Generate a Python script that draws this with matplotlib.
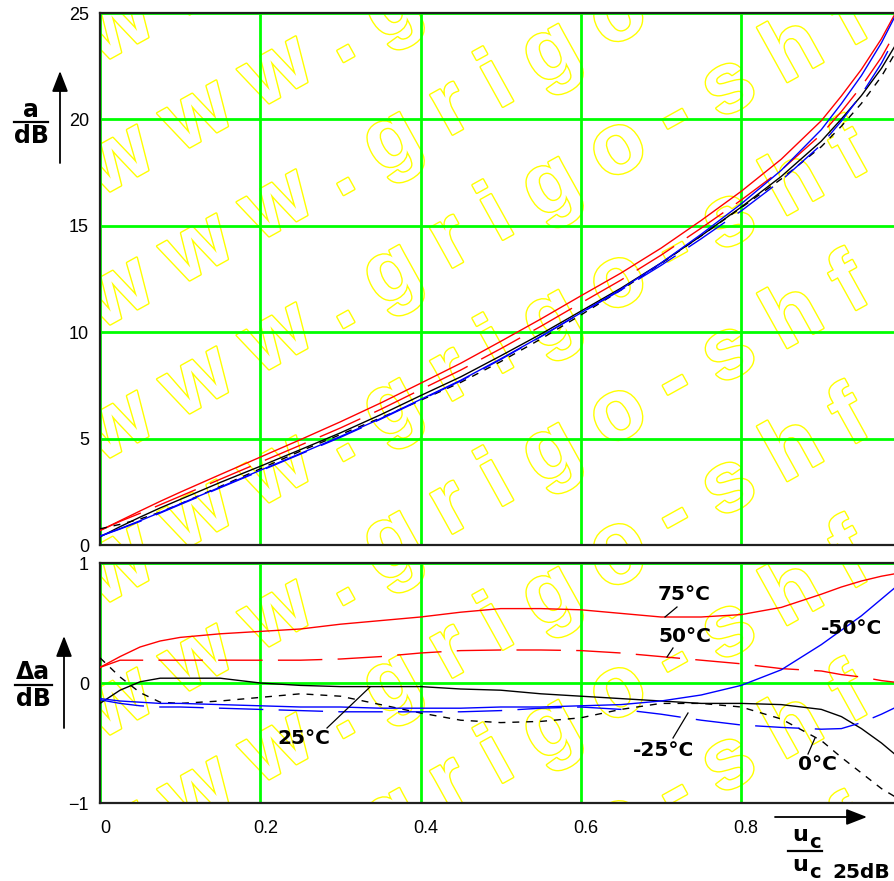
import matplotlib
matplotlib.use("Agg")
import matplotlib.pyplot as plt
from matplotlib import patheffects as pe
from matplotlib.lines import Line2D
from matplotlib.patches import FancyArrowPatch
from matplotlib.transforms import ScaledTranslation

# ---------------- data ----------------
x_ratio = [0, 0.025, 0.05, 0.075, 0.1, 0.15, 0.2, 0.25, 0.3, 0.35, 0.4, 0.45,
           0.5, 0.55, 0.6, 0.65, 0.7, 0.75, 0.8, 0.85, 0.9, 0.925, 0.95, 0.975, 1.0]

# ideal attenuation characteristic, dB
a_ideal = [0.55, 0.92, 1.3, 1.7, 2.1, 2.9, 3.7, 4.5, 5.3, 6.15, 7.05, 7.95,
           8.95, 10.0, 11.1, 12.2, 13.4, 14.7, 16.05, 17.5, 19.2, 20.3, 21.5, 22.9, 24.6]

# deviation from ideal, dB, per temperature
d_p75 = [0.13, 0.22, 0.30, 0.35, 0.38, 0.41, 0.43, 0.45, 0.49, 0.52, 0.55, 0.59,
         0.62, 0.62, 0.61, 0.58, 0.55, 0.55, 0.57, 0.63, 0.74, 0.80, 0.85, 0.89, 0.92]
d_p50 = [0.13, 0.19, 0.19, 0.19, 0.19, 0.19, 0.19, 0.19, 0.20, 0.22, 0.25, 0.27,
         0.275, 0.275, 0.27, 0.25, 0.22, 0.19, 0.16, 0.12, 0.10, 0.07, 0.05, 0.02, 0.0]
d_p25 = [-0.17, -0.06, 0.01, 0.04, 0.04, 0.04, 0.0, -0.02, -0.03, -0.03, -0.03, -0.05,
         -0.06, -0.09, -0.11, -0.13, -0.15, -0.17, -0.17, -0.18, -0.22, -0.28, -0.38, -0.50, -0.64]
d_0 = [0.21, 0.05, -0.08, -0.16, -0.17, -0.15, -0.12, -0.09, -0.11, -0.18, -0.25, -0.31,
       -0.33, -0.32, -0.29, -0.22, -0.17, -0.17, -0.20, -0.30, -0.48, -0.62, -0.75, -0.88, -0.98]
d_m25 = [-0.14, -0.17, -0.19, -0.20, -0.20, -0.21, -0.22, -0.23, -0.24, -0.24, -0.24, -0.24,
         -0.23, -0.21, -0.20, -0.22, -0.26, -0.31, -0.35, -0.37, -0.385, -0.38, -0.33, -0.26, -0.18]
d_m50 = [-0.13, -0.15, -0.16, -0.17, -0.17, -0.18, -0.19, -0.20, -0.20, -0.21, -0.21, -0.21,
         -0.20, -0.20, -0.19, -0.18, -0.15, -0.10, -0.02, 0.11, 0.32, 0.44, 0.56, 0.70, 0.84]

temp_labels = ["75°C", "50°C", "25°C", "0°C", "-25°C", "-50°C"]
deviations = [d_p75, d_p50, d_p25, d_0, d_m25, d_m50]

top_yticks = [0, 5, 10, 15, 20, 25]
bot_yticks = [-1, 0, 1]
x_ticks = [0, 0.2, 0.4, 0.6, 0.8, 1.0]
x_ticklabels = ["0", "0.2", "0.4", "0.6", "0.8", "1"]

# ---------------- styles ----------------
plt.rcParams["lines.scale_dashes"] = False
styles = {
    "75°C": dict(color="#ff0000", ls="-"),
    "50°C": dict(color="#ff0000", ls=(0, (32, 11))),
    "25°C": dict(color="#000000", ls="-"),
    "0°C": dict(color="#000000", ls=(0, (5, 5))),
    "-25°C": dict(color="#0000ff", ls=(0, (32, 11))),
    "-50°C": dict(color="#0000ff", ls="-"),
}

W, H = 894, 881
fig = plt.figure(figsize=(W / 100, H / 100), dpi=100)
fig.patch.set_facecolor("white")


def fx(px):
    return px / W


def fy(py):
    return 1 - py / H


x_left, x_right = 100, 901.5
ax1 = fig.add_axes([fx(x_left), fy(545), (x_right - x_left) / W, (545 - 13) / H])
ax2 = fig.add_axes([fx(x_left), fy(803), (x_right - x_left) / W, (803 - 563) / H])

for ax in (ax1, ax2):
    ax.set_xlim(0, 1)
    ax.set_xticks(x_ticks)
    ax.tick_params(length=0, labelsize=13)
    ax.set_axisbelow(True)
    ax.grid(True, color="#00ff00", lw=2)
    for s in ax.spines.values():
        s.set_color("#202020")
        s.set_linewidth(1.6)

ax1.set_ylim(0, 25)
ax1.set_yticks(top_yticks)
ax1.set_yticklabels([str(v) for v in top_yticks], family="Liberation Sans", fontsize=13)
ax1.set_xticklabels([])
ax2.set_ylim(-1, 1)
ax2.set_yticks(bot_yticks)
ax2.set_yticklabels(["\u22121", "0", "1"], family="Liberation Sans", fontsize=13)
ax2.set_xticklabels(x_ticklabels, family="Liberation Sans", fontsize=13)
ax2.tick_params(axis="x", pad=12)
ax1.tick_params(axis="y", pad=8)
ax2.tick_params(axis="y", pad=8)
for lab in ax2.get_xticklabels():
    lab.set_transform(lab.get_transform() + ScaledTranslation(5 / 100, 0, fig.dpi_scale_trans))

# ---------------- watermark ----------------
wm = "w w w . g r i g o - s h f"
for ax, shift in ((ax1, 0), (ax2, 11)):
    for k in range(-3, 9):
        ax.text(fx(100), fy(330 + shift + 133 * k), wm, transform=fig.transFigure,
                rotation=29, rotation_mode="anchor", ha="left", va="baseline",
                fontsize=62, fontweight="bold", family="Liberation Sans",
                color="white", zorder=0.2, clip_on=True,
                path_effects=[pe.withStroke(linewidth=2.0, foreground="#ffff00")])

# ---------------- curves ----------------
for lab, dev in zip(temp_labels, deviations):
    st = styles[lab]
    a_vals = [ai + di for ai, di in zip(a_ideal, dev)]
    ax1.plot(x_ratio, a_vals, color=st["color"], linestyle=st["ls"], lw=1.0, zorder=3)
    ax2.plot(x_ratio, dev, color=st["color"], linestyle=st["ls"], lw=1.0, zorder=3)

# ---------------- curve labels ----------------
label_pos = {
    "75°C": ((684, 594), ((677, 607), (665, 617))),
    "50°C": ((685, 636), ((673, 648), (667, 657))),
    "-50°C": ((852, 628), None),
    "-25°C": ((663, 750), ((673, 738), (688, 713))),
    "0°C": ((817, 765), ((808, 754), (815, 738))),
    "25°C": ((304, 739), ((327, 728), (370, 687))),
}
for lab, (tp, leader) in label_pos.items():
    fig.text(fx(tp[0]), fy(tp[1]), lab, ha="center", va="center",
             fontsize=14.5, fontweight="bold", family="DejaVu Sans", zorder=5)
    if leader is not None:
        (x0, y0), (x1, y1) = leader
        fig.add_artist(Line2D([fx(x0), fx(x1)], [fy(y0), fy(y1)], color="black", lw=0.9,
                              transform=fig.transFigure))

# ---------------- axis labels ----------------
lab_kw = dict(ha="center", va="center", fontweight="bold", family="DejaVu Sans", color="black")
fig.text(fx(31), fy(110), "a", fontsize=17, **lab_kw)
fig.add_artist(Line2D([fx(14), fx(48)], [fy(122), fy(122)], color="black", lw=1.6))
fig.text(fx(31), fy(136), "dB", fontsize=17, **lab_kw)
fig.text(fx(33), fy(672), "\u0394a", fontsize=17, **lab_kw)
fig.add_artist(Line2D([fx(15), fx(52)], [fy(685), fy(685)], color="black", lw=1.6))
fig.text(fx(33), fy(699), "dB", fontsize=17, **lab_kw)

arrow_kw = dict(arrowstyle="-|>,head_length=0.9,head_width=0.35", color="black", lw=1.3,
                shrinkA=0, shrinkB=0, transform=fig.transFigure, mutation_scale=14)
fig.add_artist(FancyArrowPatch((fx(60), fy(163)), (fx(60), fy(71)), **arrow_kw))
fig.add_artist(FancyArrowPatch((fx(64), fy(728)), (fx(64), fy(636)), **arrow_kw))
fig.add_artist(FancyArrowPatch((fx(775), fy(817)), (fx(867), fy(817)), **arrow_kw))

fig.text(fx(800), fy(835), "u", fontsize=16, **lab_kw)
fig.text(fx(815), fy(842), "c", fontsize=14, **lab_kw)
fig.add_artist(Line2D([fx(788), fx(822)], [fy(851), fy(851)], color="black", lw=1.6))
fig.text(fx(800), fy(865), "u", fontsize=16, **lab_kw)
fig.text(fx(815), fy(873), "c", fontsize=14, **lab_kw)
fig.text(fx(832), fy(873), "25dB", fontsize=14.5, ha="left", va="center",
         fontweight="bold", family="DejaVu Sans")

fig.savefig("out.png", dpi=100, facecolor="white")
